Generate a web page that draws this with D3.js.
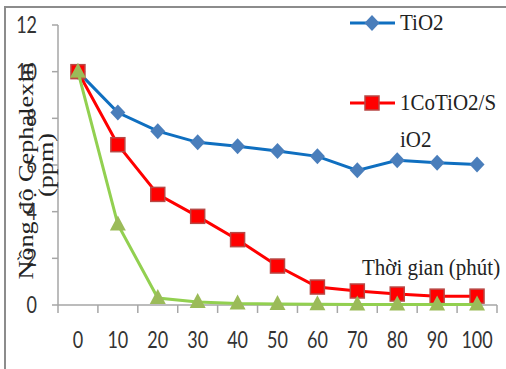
<!DOCTYPE html>
<html>
<head>
<meta charset="utf-8">
<script src="https://cdn.jsdelivr.net/npm/d3@7"></script>
<style>
  body { margin: 0; background: #fff; }
  svg { display: block; }
</style>
</head>
<body>
<div id="chart"></div>
<script>
var width = 506, height = 369;
var sansFont = "Lato, 'Open Sans', sans-serif";
var serifFont = "'Liberation Serif', 'DejaVu Serif', serif";

// categories (time, minutes) and series values (ppm)
var times = ["0","10","20","30","40","50","60","70","80","90","100"];
var tio2 = [10, 8.25, 7.45, 6.97, 6.8, 6.6, 6.37, 5.77, 6.2, 6.1, 6.02];
var coTio2 = [10, 6.87, 4.74, 3.8, 2.8, 1.67, 0.77, 0.6, 0.47, 0.38, 0.38];
var third = [10, 3.45, 0.3, 0.13, 0.06, 0.04, 0.03, 0.02, 0.02, 0.02, 0.02];
var yTicks = [0, 2, 4, 6, 8, 10, 12];

var svg = d3.select("#chart").append("svg")
    .attr("width", width)
    .attr("height", height);

// frame (top and left border of the pasted picture)
svg.append("path")
    .attr("d", "M5,370 L5,7 L506,7")
    .attr("fill", "none")
    .attr("stroke", "#8c8c8c")
    .attr("stroke-width", 2);

var x = d3.scaleBand()
    .domain(times)
    .range([58, 497]);

var y = d3.scaleLinear()
    .domain([0, 12])
    .range([305, 25]);

// y axis
var yAxis = svg.append("g")
    .attr("transform", "translate(58,0)");
yAxis.append("line")
    .attr("y1", y(12)).attr("y2", 313)
    .attr("stroke", "#a6a6a6").attr("stroke-width", 1.5);
yAxis.selectAll(".yt")
    .data(yTicks)
  .enter().append("line")
    .attr("x1", -6).attr("x2", 0)
    .attr("y1", function(d) { return y(d); })
    .attr("y2", function(d) { return y(d); })
    .attr("stroke", "#a6a6a6").attr("stroke-width", 1.5);
yAxis.selectAll(".ylbl")
    .data(yTicks)
  .enter().append("text")
    .attr("font-family", sansFont)
    .attr("font-size", 18)
    .attr("fill", "#333")
    .attr("text-anchor", "end")
    .attr("transform", function(d) { return "translate(-21," + (y(d) + 8) + ") scale(1,1.3)"; })
    .text(function(d) { return d; });

// x axis
var xAxis = svg.append("g");
xAxis.append("line")
    .attr("x1", 58).attr("x2", 497)
    .attr("y1", 305).attr("y2", 305)
    .attr("stroke", "#a6a6a6").attr("stroke-width", 1.5);
xAxis.selectAll(".xt")
    .data(times)
  .enter().append("line")
    .attr("x1", function(d) { return x(d) + x.bandwidth(); })
    .attr("x2", function(d) { return x(d) + x.bandwidth(); })
    .attr("y1", 305).attr("y2", 313)
    .attr("stroke", "#a6a6a6").attr("stroke-width", 1.5);
xAxis.selectAll(".xlbl")
    .data(times)
  .enter().append("text")
    .attr("font-family", sansFont)
    .attr("font-size", 18)
    .attr("fill", "#333")
    .attr("text-anchor", "middle")
    .attr("transform", function(d) {
      return "translate(" + (x(d) + x.bandwidth() / 2) + ",348) scale(1,1.3)";
    })
    .text(function(d) { return d; });

// series
var series = [
  {name: "TiO2", values: tio2, line: "#0f6fc0", fill: "#4a7ebb", stroke: "#4a7ebb", shape: "diamond"},
  {name: "1CoTiO2/SiO2", values: coTio2, line: "#ff0000", fill: "#ff0000", stroke: "#b84845", shape: "square"},
  {name: "third", values: third, line: "#92d050", fill: "#9bbb59", stroke: "#9bbb59", shape: "triangle"}
];

var cx = function(d, i) { return x(times[i]) + x.bandwidth() / 2; };

function marker(g, s, px, py) {
  if (s.shape == "diamond") {
    g.append("path")
      .attr("d", "M" + px + "," + (py - 8) + " L" + (px + 7.5) + "," + py + " L" + px + "," + (py + 8) + " L" + (px - 7.5) + "," + py + "Z")
      .attr("fill", s.fill);
  }
  if (s.shape == "square") {
    g.append("rect")
      .attr("x", px - 7).attr("y", py - 7)
      .attr("width", 14).attr("height", 14)
      .attr("fill", s.fill)
      .attr("stroke", s.stroke).attr("stroke-width", 1.5);
  }
  if (s.shape == "triangle") {
    g.append("path")
      .attr("d", "M" + px + "," + (py - 9) + " L" + (px + 8) + "," + (py + 6) + " L" + (px - 8) + "," + (py + 6) + "Z")
      .attr("fill", s.fill);
  }
}

var line = d3.line()
    .x(cx)
    .y(function(d) { return y(d); });

series.forEach(function(s) {
  var g = svg.append("g");
  g.append("path")
    .datum(s.values)
    .attr("d", line)
    .attr("fill", "none")
    .attr("stroke", s.line)
    .attr("stroke-width", 3);
  s.values.forEach(function(v, i) {
    marker(g, s, cx(v, i), y(v));
  });
});

// legend
var legend = svg.append("g");
[[series[0], 23], [series[1], 103]].forEach(function(item) {
  var s = item[0], ly = item[1];
  legend.append("line")
    .attr("x1", 350).attr("x2", 395)
    .attr("y1", ly).attr("y2", ly)
    .attr("stroke", s.line).attr("stroke-width", 3);
  marker(legend, s, 372, ly);
});

function serifText(txt, tx, ty, sy, rot, anchor) {
  svg.append("text")
    .attr("font-family", serifFont)
    .attr("font-size", 21)
    .attr("fill", "#222")
    .attr("text-anchor", anchor || "start")
    .attr("transform", "translate(" + tx + "," + ty + ") scale(1," + sy + ")" + (rot ? " rotate(-90)" : ""))
    .text(txt);
}

serifText("TiO2", 400, 30, 1.12);
serifText("1CoTiO2/S", 400, 110, 1.12);
serifText("iO2", 400, 147, 1.12);

// axis titles
serifText("Thời gian (phút)", 362, 275, 1.12);
serifText("Nồng độ Cephalexin", 33, 171, 1.25, true, "middle");
serifText("(ppm)", 53, 165, 1.25, true, "middle");
</script>
</body>
</html>
